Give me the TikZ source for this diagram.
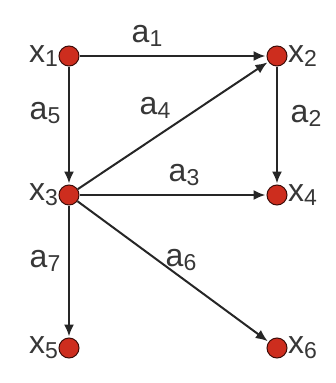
\documentclass[tikz,border=0pt]{standalone}
\usepackage{fontspec}
\setmainfont{Liberation Sans}
\usetikzlibrary{arrows.meta}

\definecolor{vertexred}{RGB}{205,45,30}
\definecolor{labelgray}{RGB}{55,55,55}

\newcommand{\sub}[2]{#1\raisebox{-0.28ex}{\fontsize{23}{26}\selectfont #2}}

\tikzset{
  vertex/.style={circle, fill=vertexred, draw=black!70!vertexred, line width=1pt, minimum size=20pt, inner sep=0pt},
  edge/.style={black!85, line width=2pt, -{Latex[length=12pt, width=10pt]}, shorten >=1pt},
  lbl/.style={text=labelgray, font=\fontsize{32}{36}\selectfont, inner sep=0.5pt}
}

\begin{document}
\begin{tikzpicture}[x=1pt,y=-1pt]
\useasboundingbox (0,0) rectangle (336,383);
\node[vertex] (x1) at (69,56) {};
\node[vertex] (x2) at (277,56) {};
\node[vertex] (x3) at (69,195) {};
\node[vertex] (x4) at (277,195) {};
\node[vertex] (x5) at (69,348) {};
\node[vertex] (x6) at (277,348) {};
\node[lbl, left] at (x1.west) {\sub{x}{1}};
\node[lbl, right] at (x2.east) {\sub{x}{2}};
\node[lbl, left] at (x3.west) {\sub{x}{3}};
\node[lbl, right] at (x4.east) {\sub{x}{4}};
\node[lbl, left] at (x5.west) {\sub{x}{5}};
\node[lbl, right] at (x6.east) {\sub{x}{6}};
\draw[edge] (x1) -- (x2);
\draw[edge] (x1) -- (x3);
\draw[edge] (x2) -- (x4);
\draw[edge] (x3) -- (x2);
\draw[edge] (x3) -- (x4);
\draw[edge] (x3) -- (x5);
\draw[edge] (x3) -- (x6);
\node[lbl] at (147,36) {\sub{a}{1}};
\node[lbl] at (306,116) {\sub{a}{2}};
\node[lbl] at (184,175) {\sub{a}{3}};
\node[lbl] at (155,108) {\sub{a}{4}};
\node[lbl] at (45,113) {\sub{a}{5}};
\node[lbl] at (181,260) {\sub{a}{6}};
\node[lbl] at (45,261) {\sub{a}{7}};
\end{tikzpicture}
\end{document}
